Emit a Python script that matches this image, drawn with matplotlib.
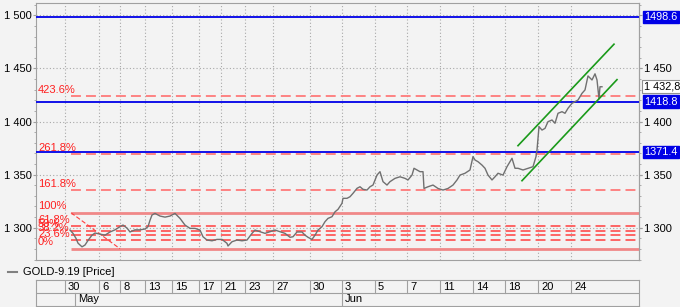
import matplotlib
matplotlib.use("Agg")
import matplotlib.pyplot as plt
from matplotlib.lines import Line2D
from matplotlib.ticker import FuncFormatter, MultipleLocator

plt.rcParams['font.family'] = ['Liberation Sans', 'DejaVu Sans']

# bar index (one unit per bar) -> price, GOLD-9.19
bar_x = [34, 37, 40, 42, 46, 49, 52, 56, 59, 64, 69, 74, 79, 84, 87, 91, 94, 99, 104, 109,
         112, 114, 116, 119, 124, 129, 134, 139, 144, 149, 154, 159, 164, 167, 171, 176, 181,
         186, 191, 192, 196, 201, 206, 211, 216, 219, 224, 229, 234, 239, 244, 249, 254, 257,
         261, 266, 269, 272, 276, 279, 282, 286, 289, 292, 296, 299, 302, 306, 307, 311, 314,
         317, 321, 324, 327, 331, 334, 337, 341, 344, 347, 351, 354, 359, 364, 369, 372, 376,
         378, 381, 384, 387, 388, 392, 397, 402, 407, 412, 417, 421, 424, 429, 434, 437, 439,
         442, 446, 449, 452, 456, 459, 462, 467, 471, 474, 476, 479, 482, 487, 492, 497, 500,
         501, 503, 506, 509, 512, 516, 519, 522, 526, 529, 532, 536, 539, 542, 546, 549, 552,
         556, 559, 561, 563, 564, 566]
price = [1297.8, 1294.7, 1290.0, 1285.5, 1282.0, 1283.7, 1288.0, 1293.0, 1295.0, 1294.0,
         1293.0, 1296.0, 1298.0, 1301.0, 1302.5, 1299.7, 1296.0, 1298.0, 1298.0, 1298.8,
         1301.0, 1307.0, 1312.0, 1313.5, 1311.0, 1310.0, 1311.0, 1313.5, 1308.8, 1302.5,
         1299.4, 1299.4, 1297.8, 1291.5, 1288.4, 1287.7, 1289.0, 1289.0, 1285.3, 1282.8,
         1286.8, 1288.4, 1287.7, 1288.4, 1294.7, 1297.8, 1296.2, 1294.7, 1296.2, 1297.8,
         1296.2, 1294.7, 1291.0, 1291.5, 1296.0, 1296.0, 1293.0, 1291.0, 1289.0, 1293.0,
         1297.8, 1301.0, 1305.7, 1308.8, 1310.4, 1315.0, 1317.3, 1323.0, 1327.7, 1327.7,
         1329.2, 1332.4, 1337.1, 1338.6, 1336.2, 1335.5, 1338.6, 1340.2, 1349.6, 1352.8,
         1343.4, 1340.2, 1343.4, 1346.5, 1348.0, 1346.5, 1345.0, 1349.6, 1356.0, 1354.4,
         1352.8, 1352.8, 1337.0, 1338.6, 1340.2, 1337.0, 1335.5, 1337.0, 1340.2, 1345.0,
         1349.6, 1351.3, 1354.4, 1367.0, 1363.8, 1362.2, 1359.0, 1356.0, 1349.6, 1345.0,
         1348.0, 1351.3, 1349.6, 1357.5, 1362.2, 1365.4, 1356.0, 1356.0, 1354.4, 1356.0,
         1357.5, 1367.0, 1373.2, 1395.2, 1392.0, 1393.6, 1399.9, 1401.5, 1398.4, 1407.8,
         1409.3, 1407.8, 1412.5, 1417.2, 1418.8, 1420.3, 1426.6, 1429.8, 1443.0, 1439.2,
         1445.0, 1439.2, 1421.5, 1432.8, 1432.8]
last_price = 1432.8

# date axis
tick_bars = [29, 63, 84, 109, 136, 163, 185, 209, 237, 274, 306, 339, 371, 404, 437, 469, 502, 535]
tick_labels = ['30', '6', '8', '13', '15', '17', '21', '23', '27', '30',
               '3', '5', '7', '11', '14', '18', '20', '24']
month_bars = [39, 306]
month_labels = ['May', 'Jun']

# price axis labels (right side skips the one hidden by the 1498.6 tag)
left_ticks = [1300, 1350, 1400, 1450, 1500]
right_ticks = [1300, 1350, 1400, 1450]

# horizontal lines (blue)
hlines = [1498.6, 1418.8, 1371.4]

# fibonacci levels
fib_names = ['0%', '23.6%', '38.2%', '50%', '61.8%', '100%', '161.8%', '261.8%', '423.6%']
fib_prices = [1280.2, 1288.2, 1293.2, 1297.2, 1301.2, 1314.1, 1335.1, 1369.0, 1423.8]
fib_start = 35
fib_trend_x = [35, 84]
fib_trend_y = [1314.1, 1280.2]

# trend channel
chan_up_x = [482, 578]
chan_up_y = [1377.3, 1472.9]
chan_lo_x = [486, 581]
chan_lo_y = [1344.3, 1439.5]

W, H = 680, 307
BG = '#f3f3f3'
EDGE = '#a0a0a0'
fmt = FuncFormatter(lambda v, p: f"{int(v):,}".replace(",", " "))

fig = plt.figure(figsize=(W / 100, H / 100), dpi=100)
fig.patch.set_facecolor(BG)
ax = fig.add_axes([36 / W, 1 - 260 / H, 603 / W, 257 / H])
ax.set_facecolor(BG)
ax.set_xlim(0, 603)
ax.set_ylim(1269.6, 1511.7)

ax.set_xticks(tick_bars)
ax.set_xticklabels([])
ax.tick_params(axis='x', length=0)
ax.set_yticks(left_ticks)
ax.yaxis.set_minor_locator(MultipleLocator(10))
ax.yaxis.set_major_formatter(fmt)
ax.tick_params(axis='y', which='major', left=True, right=True, labelleft=True, labelright=False,
               length=2.5, color=EDGE, labelsize=8, pad=0.8)
ax.tick_params(axis='y', which='minor', left=True, right=True, length=1.5, color=EDGE)
ax.grid(True, which='major', color='#a8a8a8', linestyle=(0, (1, 2)), linewidth=0.8)
for s in ax.spines.values():
    s.set_color(EDGE)

sec = ax.secondary_yaxis('right')
sec.set_yticks(right_ticks)
sec.yaxis.set_major_formatter(fmt)
sec.tick_params(axis='y', length=2.5, color=EDGE, labelsize=8, pad=0.8)
sec.spines['right'].set_color(EDGE)

# fib levels
for name, lvl in zip(fib_names, fib_prices):
    if name in ('0%', '100%'):
        ax.hlines(lvl, fib_start, 603, color='#f08888', lw=2, zorder=2)
    elif name in ('161.8%', '261.8%', '423.6%'):
        ax.hlines(lvl, fib_start, 603, color='#ff7a7a', lw=1.3, linestyles=(0, (5.5, 2.8)), zorder=2)
    else:
        ax.hlines(lvl, fib_start, 603, color='#ff5a5a', lw=1.3, linestyles=(0, (5.5, 2.8)), zorder=2)
    ax.text(2, lvl + 1.5, name, color='#ff2020', fontsize=8, va='bottom', ha='left', zorder=4)
ax.plot(fib_trend_x, fib_trend_y, color='#ff4040', lw=0.8, linestyle=(0, (4, 2)), zorder=2)

for v in hlines:
    ax.axhline(v, color='#1010e8', lw=1.4, zorder=3)

ax.plot(bar_x, price, color='#707070', lw=1.0, zorder=5)

ax.plot(chan_up_x, chan_up_y, color='#1a9a1a', lw=1.2, zorder=6)
ax.plot(chan_lo_x, chan_lo_y, color='#1a9a1a', lw=1.2, zorder=6)

# right-side value tags
for v in hlines:
    ax.annotate(f"{v:.1f}", xy=(1, v), xycoords=('axes fraction', 'data'),
                xytext=(4, 0), textcoords='offset points', va='center', ha='left',
                fontsize=7.8, color='white', annotation_clip=False, zorder=10,
                bbox=dict(boxstyle='square,pad=0.12', fc='#0000e6', ec='#0000e6'))
last_txt = f"{last_price:,.1f}".replace(",", " ").replace(".", ",")
ax.annotate(last_txt, xy=(1, last_price), xycoords=('axes fraction', 'data'),
            xytext=(3.5, 0), textcoords='offset points', va='center', ha='left',
            fontsize=7.8, color='black', annotation_clip=False, zorder=10,
            bbox=dict(boxstyle='square,pad=0.15', fc='white', ec='#909090', lw=0.8))

# legend row
fig.add_artist(Line2D([8 / W, 17 / W], [1 - 272 / H] * 2, color='#808080', lw=1.5))
fig.text(23 / W, 1 - 272 / H, 'GOLD-9.19 [Price]', fontsize=8, va='center', ha='left')

# date table
tab = fig.add_axes([36 / W, 1 - 306 / H, 603 / W, 26 / H])
tab.set_facecolor(BG)
tab.set_xlim(0, 603)
tab.set_ylim(0, 2)
tab.set_xticks([])
tab.set_yticks([])
for s in tab.spines.values():
    s.set_color(EDGE)
tab.axhline(1, color=EDGE, lw=0.8)
for b, lab in zip(tick_bars, tick_labels):
    tab.plot([b, b], [1, 2], color=EDGE, lw=0.8)
    tab.text(b + 3, 1.5, lab, fontsize=8, va='center', ha='left')
for b, lab in zip(month_bars, month_labels):
    tab.plot([b, b], [0, 1], color=EDGE, lw=0.8)
    tab.text(b + 3, 0.5, lab, fontsize=8, va='center', ha='left')

fig.savefig('out.png', dpi=100, facecolor=BG)
